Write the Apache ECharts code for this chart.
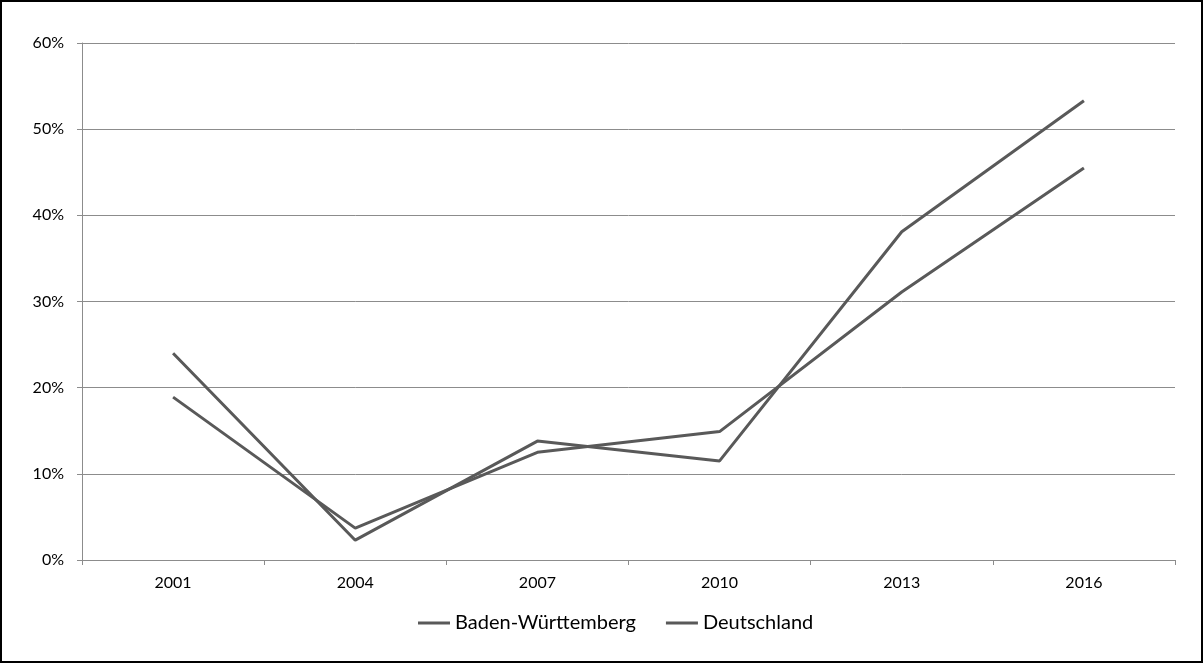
<!DOCTYPE html>
<html>
<head>
<meta charset="utf-8">
<script src="https://cdn.jsdelivr.net/npm/echarts@6/dist/echarts.min.js"></script>
<style>
  html, body { margin: 0; padding: 0; background: #fff; }
  #chart {
    box-sizing: border-box;
    width: 1203px;
    height: 663px;
    border: 2px solid #000;
  }
</style>
</head>
<body>
<div id="chart"></div>
<script>
const years = ['2001', '2004', '2007', '2010', '2013', '2016'];
const badenWuerttemberg = [24.0, 2.3, 13.8, 11.5, 38.1, 53.3];
const deutschland = [18.9, 3.7, 12.5, 14.9, 31.1, 45.5];

const lineColor = '#595959';
const axisGray = '#8c8c8c';

const option = {
  backgroundColor: '#fff',
  animation: false,
  textStyle: {
    fontFamily: 'Lato',
  },
  grid: {
    left: 80,
    right: 26,
    top: 41,
    bottom: 101,
  },
  legend: {
    top: 606,
    left: 411,
    icon: 'rect',
    itemWidth: 32,
    itemHeight: 3,
    itemGap: 30,
    textStyle: {
      fontSize: 20,
      color: '#000',
      fontFamily: 'Lato',
    },
    data: ['Baden-Württemberg', 'Deutschland'],
  },
  xAxis: {
    type: 'category',
    boundaryGap: true,
    data: years,
    axisLine: {
      lineStyle: { color: axisGray, width: 1 },
    },
    axisTick: {
      show: true,
      length: 5,
      lineStyle: { color: axisGray },
    },
    axisLabel: {
      color: '#000',
      fontSize: 16,
      margin: 15,
    },
  },
  yAxis: {
    type: 'value',
    min: 0,
    max: 60,
    interval: 10,
    axisLine: {
      show: true,
      lineStyle: { color: axisGray, width: 1 },
    },
    axisTick: {
      show: true,
      length: 5,
      lineStyle: { color: axisGray },
    },
    axisLabel: {
      color: '#000',
      fontSize: 16,
      margin: 18,
      formatter: '{value}%',
    },
    splitLine: {
      lineStyle: { color: axisGray, width: 1 },
    },
  },
  series: [
    {
      name: 'Baden-Württemberg',
      type: 'line',
      data: badenWuerttemberg,
      symbol: 'none',
      color: lineColor,
      lineStyle: { width: 3, color: lineColor },
    },
    {
      name: 'Deutschland',
      type: 'line',
      data: deutschland,
      symbol: 'none',
      color: lineColor,
      lineStyle: { width: 3, color: lineColor },
    },
  ],
};

const chart = echarts.init(document.getElementById('chart'));
chart.setOption(option);
</script>
</body>
</html>
